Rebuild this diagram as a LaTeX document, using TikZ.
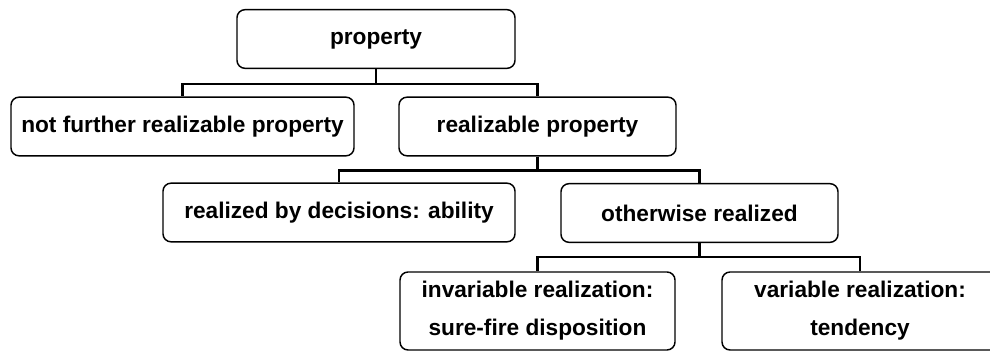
\documentclass[tikz,border=0pt]{standalone}
\usepackage{fontspec}
\setmainfont{Liberation Sans}
\usepackage{tikz}
\usetikzlibrary{positioning}

\begin{document}
\begin{tikzpicture}[
    x=0.75pt, y=-0.75pt,
    block/.style={rectangle, draw, rounded corners=6pt, line width=1.1pt, inner sep=0pt,
        minimum height=44pt, align=center, font=\fontsize{17}{28.5}\selectfont\bfseries},
    tallblock/.style={block, minimum height=58.5pt},
    line/.style={line width=1.7pt}
]
\useasboundingbox (0,0) rectangle (990,352);

% Nodes
\node[block, minimum width=208.5pt] (property) at (376,39) {property};
\node[block, minimum width=257.25pt] (notfurther) at (182.5,126.5) {not further realizable property};
\node[block, minimum width=207.75pt] (realizable) at (537.5,126.5) {realizable property};
\node[block, minimum width=264pt] (decisions) at (339,212.5) {realized by decisions: ability};
\node[block, minimum width=207.75pt] (otherwise) at (699.5,213) {otherwise realized};
\node[tallblock, minimum width=206.25pt] (invariable) at (537.5,311) {invariable realization:\\sure-fire disposition};
\node[tallblock, minimum width=207pt] (variable) at (860,311) {variable realization:\\tendency};

% Connections
\draw[line] (property.south) -- ++(0,15) -| (notfurther.north);
\draw[line] (property.south) -- ++(0,15) -| (realizable.north);
\draw[line] (realizable.south) -- ++(0,14) -| (decisions.north);
\draw[line] (realizable.south) -- ++(0,14) -| (otherwise.north);
\draw[line] (otherwise.south) -- ++(0,14) -| (invariable.north);
\draw[line] (otherwise.south) -- ++(0,14) -| (variable.north);

\end{tikzpicture}
\end{document}
